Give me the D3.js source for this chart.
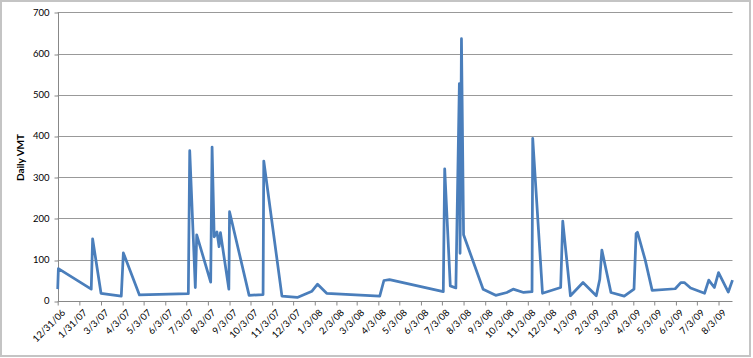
<!DOCTYPE html>
<html>
<head>
<meta charset="utf-8">
<script src="https://cdn.jsdelivr.net/npm/d3@7"></script>
<style>
  html, body { margin: 0; padding: 0; background: #fff; }
  svg { display: block; }
  text { font-family: Lato, "Open Sans", sans-serif; fill: #000; }
</style>
</head>
<body>
<svg id="chart" width="753" height="358"></svg>
<script>
// ---- data ----
const dates = [
  "2006-12-31","2007-01-01","2007-02-17","2007-02-19","2007-03-03","2007-04-01","2007-04-04","2007-04-27",
  "2007-07-06","2007-07-08","2007-07-16","2007-07-18","2007-08-07","2007-08-09","2007-08-12","2007-08-16",
  "2007-08-19","2007-08-21","2007-09-02","2007-09-03","2007-10-01","2007-10-21","2007-10-22","2007-11-17",
  "2007-12-09","2007-12-30","2008-01-07","2008-01-20","2008-04-05","2008-04-11","2008-04-19","2008-07-05",
  "2008-07-07","2008-07-15","2008-07-23","2008-07-28","2008-07-29","2008-07-31","2008-08-03","2008-08-31",
  "2008-09-18","2008-10-04","2008-10-13","2008-10-28","2008-11-09","2008-11-10","2008-11-24","2008-12-20",
  "2008-12-23","2009-01-03","2009-01-21","2009-02-09","2009-02-14","2009-02-17","2009-03-02","2009-03-21",
  "2009-04-04","2009-04-07","2009-04-09","2009-04-20","2009-04-30","2009-06-02","2009-06-10","2009-06-15",
  "2009-06-24","2009-07-14","2009-07-20","2009-07-28","2009-08-03","2009-08-17","2009-08-23"
];
const dailyVMT = [
  28, 78, 28, 150, 18, 11, 116, 14,
  17, 364, 32, 160, 45, 373, 155, 167,
  131, 165, 28, 216, 13, 15, 339, 11,
  8, 23, 40, 18, 11, 49, 51, 22,
  320, 36, 31, 527, 115, 636, 160, 28,
  13, 20, 28, 20, 22, 394, 18, 32,
  193, 12, 44, 12, 52, 123, 20, 11,
  28, 163, 166, 99, 25, 29, 44, 44,
  31, 18, 50, 32, 68, 21, 50
];
const xTickLabels = [
  "12/31/06","1/31/07","3/3/07","4/3/07","5/3/07","6/3/07","7/3/07","8/3/07","9/3/07","10/3/07","11/3/07",
  "12/3/07","1/3/08","2/3/08","3/3/08","4/3/08","5/3/08","6/3/08","7/3/08","8/3/08","9/3/08","10/3/08",
  "11/3/08","12/3/08","1/3/09","2/3/09","3/3/09","4/3/09","5/3/09","6/3/09","7/3/09","8/3/09"
];
const yTicks = [0, 100, 200, 300, 400, 500, 600, 700];
const yTitle = "Daily VMT";

// ---- layout ----
const svg = d3.select("#chart");
const m = { left: 57.7, right: 732.5, top: 12.3, bottom: 300.7 };
const parseISO = d3.timeParse("%Y-%m-%d");
const parseLbl = d3.timeParse("%m/%d/%y");
const data = dates.map((d, i) => ({ date: parseISO(d), v: dailyVMT[i] }));

const x = d3.scaleTime()
  .domain([parseISO("2006-12-31"), parseISO("2009-08-23")])
  .range([m.left, m.right]);
const y = d3.scaleLinear().domain([0, 700]).range([m.bottom, m.top]);

// outer border
svg.append("rect").attr("x", 1).attr("y", 1).attr("width", 749).attr("height", 355)
  .attr("fill", "none").attr("stroke", "#c4c4c4").attr("stroke-width", 2);

// gridlines
svg.append("g").selectAll("line").data(yTicks.filter(t => t > 0)).join("line")
  .attr("x1", m.left).attr("x2", m.right)
  .attr("y1", d => Math.round(y(d)) + 0.5).attr("y2", d => Math.round(y(d)) + 0.5)
  .attr("stroke", "#999").attr("stroke-width", 1);

// y axis
const yAxis = svg.append("g").attr("transform", `translate(${Math.round(m.left) + 0.5},0)`)
  .call(d3.axisLeft(y).tickValues(yTicks).tickSize(4).tickPadding(5).tickFormat(d3.format("d")));
yAxis.selectAll("line").attr("stroke", "#888").attr("transform", d => `translate(0,${Math.round(y(d)) + 0.5 - y(d)})`);
yAxis.select(".domain").attr("stroke", "#888").attr("d", `M0,${m.top}V${Math.round(m.bottom) + 0.5}`);
yAxis.selectAll("text").attr("font-size", "9.5px").attr("font-family", "Lato, sans-serif").attr("fill", "#000");

// x axis
const xTickDates = xTickLabels.map(s => parseLbl(s));
const xAxis = svg.append("g").attr("transform", `translate(0,${Math.round(m.bottom) + 0.5})`)
  .call(d3.axisBottom(x).tickValues(xTickDates).tickSize(4).tickFormat((d, i) => xTickLabels[i]));
xAxis.select(".domain").attr("stroke", "#888").attr("d", `M${m.left},0H${m.right}`);
xAxis.selectAll("line").attr("stroke", "#888");
xAxis.selectAll("text")
  .attr("font-size", "9.5px").attr("font-family", "Lato, sans-serif").attr("fill", "#000")
  .attr("text-anchor", "end")
  .attr("dy", "0.71em")
  .attr("y", 0)
  .attr("transform", "translate(3,7) rotate(-45)");

// y title
svg.append("text")
  .attr("transform", `translate(24,${(m.top + m.bottom) / 2 + 1}) rotate(-90)`)
  .attr("text-anchor", "middle")
  .attr("font-size", "10px").attr("font-weight", "bold")
  .text(yTitle);

// line
svg.append("path").datum(data)
  .attr("fill", "none").attr("stroke", "#4A7EBB").attr("stroke-width", 2.75)
  .attr("stroke-linejoin", "round").attr("stroke-linecap", "butt")
  .attr("d", d3.line().x(d => x(d.date)).y(d => y(d.v)));
</script>
</body>
</html>
